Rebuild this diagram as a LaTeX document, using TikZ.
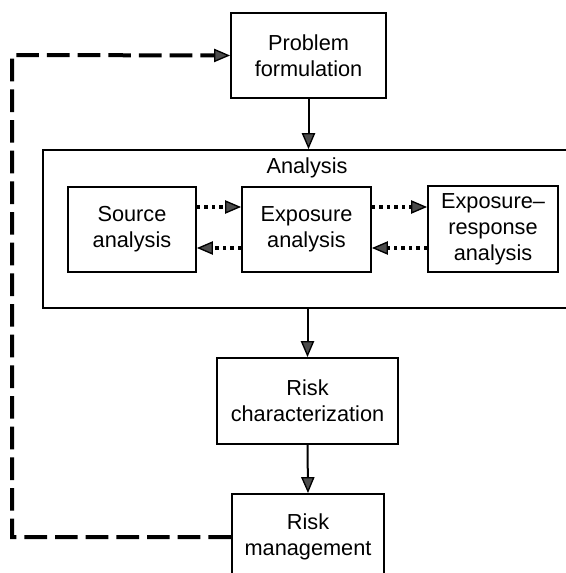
\documentclass[tikz,border=0pt]{standalone}
\usepackage{fontspec}
\setmainfont{Liberation Sans}
\usetikzlibrary{arrows.meta}
\newdimen\pxu
\pxu=0.75pt

\begin{document}
\begin{tikzpicture}[x=0.75pt,y=-0.75pt,
  font=\fontsize{16.3}{19.5}\selectfont,
  stepbox/.style={draw, line width=1.4pt, align=center, inner sep=0pt},
  tip/.style={-{Triangle[length=12pt,width=10pt,fill=black!70,line width=1pt]}},
  flow/.style={line width=1.5pt, tip},
  feedback/.style={line width=3pt, dash pattern=on 17pt off 6pt, tip},
  exchange/.style={line width=2.8pt, dash pattern=on 2.6pt off 3pt, tip},
]
\useasboundingbox (0,0) rectangle (565,573);

% main chain
\node[stepbox, minimum width=155\pxu, minimum height=85\pxu] (pf) at (308.5,55.5) {Problem\\formulation};
\node[draw, line width=1.3pt, minimum width=540\pxu, minimum height=158\pxu, inner sep=0pt] (an) at (313,229) {};
\node (antitle) at (307,168) {Analysis};
\node[stepbox, minimum width=128\pxu, minimum height=85\pxu] (src) at (132,229.5) {Source\\analysis};
\node[stepbox, minimum width=129\pxu, minimum height=85\pxu] (exp) at (306.5,229.5) {Exposure\\analysis};
\node[stepbox, minimum width=130\pxu, minimum height=86\pxu] (er) at (493,229) {Exposure--\\response\\analysis};
\node[stepbox, minimum width=181\pxu, minimum height=86\pxu] (rc) at (307.5,401) {Risk\\characterization};
\node[stepbox, minimum width=152\pxu, minimum height=86\pxu] (rm) at (308,537) {Risk\\management};

% solid flow arrows
\draw[flow] (pf.south) -- (pf.south |- an.north);
\draw[flow] (rc.north |- an.south) -- (rc.north);
\draw[flow] (rc.south) -- (rm.north);

% dotted exchanges inside the analysis phase
\draw[exchange] (src.east |- 0,207) -- (exp.west |- 0,207);
\draw[exchange] (exp.west |- 0,248) -- (src.east |- 0,248);
\draw[exchange] (exp.east |- 0,207) -- (er.west |- 0,207);
\draw[exchange] (er.west |- 0,248) -- (exp.east |- 0,248);

% feedback loop from management back to formulation
\coordinate (lb) at (12,537);
\coordinate (lt) at (12,55);
\draw[feedback] (rm.west) -- (lb) -- (lt) -- (pf.west);
\end{tikzpicture}
\end{document}
